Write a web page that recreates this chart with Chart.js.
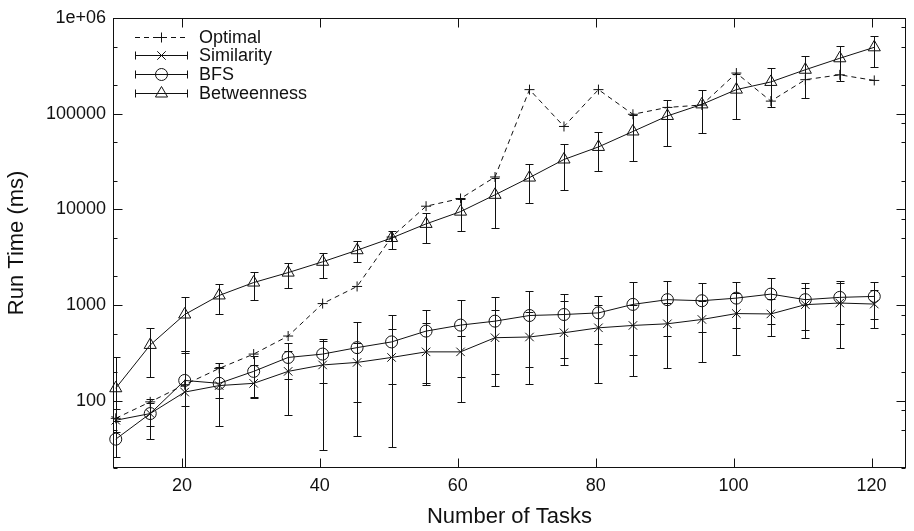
<!DOCTYPE html>
<html lang="en">
<head>
<meta charset="UTF-8">
<title>Run Time vs Number of Tasks</title>
<script src="https://cdn.jsdelivr.net/npm/chart.js@4"></script>
<style>
  html, body { margin: 0; padding: 0; background: #fff; }
  canvas { display: block; }
</style>
</head>
<body>
<canvas id="runtimeChart" width="914" height="531"></canvas>
<script>
// values (ms, log scale)
// the marks sit a little right of the nominal task count in the original
const tasks = [10.4, 15.4, 20.4, 25.4, 30.4, 35.4, 40.4, 45.4, 50.4, 55.4, 60.4, 65.4, 70.4, 75.4, 80.4, 85.4, 90.4, 95.4, 100.4, 105.4, 110.4, 115.4, 120.4];

const optimal = [66, 98, 148, 219, 309, 477, 1040, 1570, 5150, 10800, 13000, 21800, 178000, 73400, 178000, 98400, 116000, 123000, 265000, 135000, 226000, 254000, 222000];

const similarity     = [63, 74, 124, 145, 153, 204, 238, 253, 285, 326, 326, 458, 466, 516, 581, 615, 640, 710, 818, 811, 1014, 1054, 1028];
const similarityLow  = [47, 55, 10, 55, 107, 72, 31, 43, 33, 148, 98, 145, 149, 238, 155, 184, 219, 253, 301, 477, 458, 356, 573];
const similarityHigh = [83, 95, 321, 225, 240, 330, 427, 407, 560, 650, 477, 900, 850, 1100, 1014, 1000, 1054, 1100, 1337, 1159, 1530, 1698, 1449];

const bfs     = [40, 74, 164, 153, 204, 285, 309, 361, 414, 537, 620, 682, 781, 800, 832, 1020, 1143, 1114, 1186, 1306, 1143, 1208, 1236];
const bfsLow  = [26, 40, 88, 107, 110, 170, 153, 98, 149, 153, 177, 192, 228, 278, 392, 300, 477, 525, 581, 630, 547, 630, 710];
const bfsHigh = [62, 106, 330, 249, 296, 401, 441, 671, 787, 900, 1143, 1216, 1393, 1318, 1256, 1730, 1808, 1698, 1766, 1942, 1698, 1795, 1766];

const betweenness     = [136, 385, 800, 1265, 1725, 2190, 2840, 3750, 5030, 7060, 9480, 14200, 21500, 33200, 44900, 65100, 94500, 124800, 178000, 214000, 287000, 378000, 492000];
const betweennessLow  = [62, 177, 334, 818, 1143, 1530, 1942, 2840, 3845, 4500, 5890, 6430, 11560, 16000, 25200, 32400, 46300, 62600, 87300, 118000, 144000, 219000, 305000];
const betweennessHigh = [285, 573, 1208, 1656, 2240, 2730, 3546, 4650, 5890, 9180, 12800, 21500, 29900, 48500, 63600, 96800, 138000, 178000, 260000, 301000, 403000, 511000, 648000];

const xTicks = [20, 40, 60, 80, 100, 120];
const yTicks = [100, 1000, 10000, 100000, 1000000];
const yTickLabels = ['100', '1000', '10000', '100000', '1e+06'];

const FONT = '"Liberation Sans", Arial, Helvetica, sans-serif';
const INK = '#111';

function points(values) {
    return values.map((v, i) => ({ x: tasks[i], y: v }));
}

// vertical error bars with little caps, like gnuplot's yerrorlines
const errorBars = {
    id: 'errorBars',
    afterDatasetsDraw(chart) {
        const ctx = chart.ctx;
        const area = chart.chartArea;
        const yScale = chart.scales.y;
        ctx.save();
        ctx.beginPath();
        ctx.rect(area.left, area.top, area.right - area.left, area.bottom - area.top);
        ctx.clip();
        ctx.strokeStyle = INK;
        ctx.lineWidth = 1;
        chart.data.datasets.forEach((ds, di) => {
            if (!ds.errLow) return;
            chart.getDatasetMeta(di).data.forEach((pt, i) => {
                const x = Math.round(pt.x) + 0.5;
                const lo = Math.round(yScale.getPixelForValue(ds.errLow[i])) + 0.5;
                const hi = Math.round(yScale.getPixelForValue(ds.errHigh[i])) + 0.5;
                ctx.beginPath();
                ctx.moveTo(x, lo); ctx.lineTo(x, hi);
                ctx.moveTo(x - 4, lo); ctx.lineTo(x + 4, lo);
                ctx.moveTo(x - 4, hi); ctx.lineTo(x + 4, hi);
                ctx.stroke();
            });
        });
        ctx.restore();
    }
};

// box around the plot and inward tick marks on all four sides
const frame = {
    id: 'frame',
    afterDraw(chart) {
        const ctx = chart.ctx;
        const a = chart.chartArea;
        const xs = chart.scales.x, ys = chart.scales.y;
        const L = Math.round(a.left) + 0.5, R = Math.round(a.right) - 0.5;
        const T = Math.round(a.top) + 0.5, B = Math.round(a.bottom) - 0.5;
        ctx.save();
        ctx.strokeStyle = INK;
        ctx.lineWidth = 1;
        ctx.strokeRect(L, T, R - L, B - T);
        ctx.beginPath();
        xTicks.forEach(v => {
            const x = Math.round(xs.getPixelForValue(v)) + 0.5;
            ctx.moveTo(x, B); ctx.lineTo(x, B - 9);
            ctx.moveTo(x, T); ctx.lineTo(x, T + 9);
        });
        for (let d = 10; d <= 1e6; d *= 10) {
            [1, 2, 5, 8].forEach(m => {
                const v = d * m;
                if (v < ys.min || v > ys.max) return;
                const y = Math.round(ys.getPixelForValue(v)) + 0.5;
                const len = m === 1 ? 9 : 4;
                if (m !== 8) { ctx.moveTo(L, y); ctx.lineTo(L + len, y); }
                ctx.moveTo(R, y); ctx.lineTo(R - len, y);
            });
        }
        ctx.stroke();
        ctx.restore();
    }
};

// key in the upper left corner, with error bar samples
const keyBox = {
    id: 'keyBox',
    afterDraw(chart) {
        const ctx = chart.ctx;
        const a = chart.chartArea;
        const x0 = a.left + 22, x1 = a.left + 75, tx = a.left + 86;
        ctx.save();
        ctx.font = '18px ' + FONT;
        ctx.textBaseline = 'middle';
        ctx.textAlign = 'left';
        chart.data.datasets.forEach((ds, i) => {
            const y = Math.round(a.top + 19 + i * 18.6) + 0.5;
            ctx.strokeStyle = INK;
            ctx.lineWidth = 1;
            ctx.setLineDash(ds.borderDash || []);
            ctx.beginPath();
            ctx.moveTo(x0, y); ctx.lineTo(x1, y);
            ctx.stroke();
            ctx.setLineDash([]);
            if (ds.errLow) {
                ctx.beginPath();
                ctx.moveTo(x0 + 0.5, y - 4); ctx.lineTo(x0 + 0.5, y + 4);
                ctx.moveTo(x1 - 0.5, y - 4); ctx.lineTo(x1 - 0.5, y + 4);
                ctx.stroke();
            }
            ctx.fillStyle = 'rgba(0,0,0,0)';
            Chart.helpers.drawPoint(ctx, {
                pointStyle: ds.pointStyle, radius: ds.pointRadius, borderWidth: 1, rotation: 0
            }, (x0 + x1) / 2, y);
            ctx.fillStyle = INK;
            ctx.fillText(ds.label, tx, y + 1);
        });
        ctx.restore();
    }
};

const base = {
    borderColor: INK,
    borderWidth: 1,
    pointBorderColor: INK,
    pointBackgroundColor: 'rgba(0,0,0,0)',
    pointBorderWidth: 1,
    tension: 0,
    fill: false,
    clip: false
};

new Chart(document.getElementById('runtimeChart'), {
    type: 'line',
    data: {
        datasets: [
            Object.assign({}, base, { label: 'Optimal', data: points(optimal), borderDash: [5, 4], pointStyle: 'cross', pointRadius: 5 }),
            Object.assign({}, base, { label: 'Similarity', data: points(similarity), pointStyle: 'crossRot', pointRadius: 6,
                errLow: similarityLow, errHigh: similarityHigh }),
            Object.assign({}, base, { label: 'BFS', data: points(bfs), pointStyle: 'circle', pointRadius: 6,
                errLow: bfsLow, errHigh: bfsHigh }),
            Object.assign({}, base, { label: 'Betweenness', data: points(betweenness), pointStyle: 'triangle', pointRadius: 7,
                errLow: betweennessLow, errHigh: betweennessHigh })
        ]
    },
    options: {
        responsive: false,
        animation: false,
        layout: { padding: { top: 13, right: 1, bottom: 0, left: 0 } },
        plugins: { legend: { display: false }, tooltip: { enabled: false } },
        scales: {
            x: {
                type: 'linear', min: 10, max: 125,
                grid: { display: false, drawTicks: false },
                border: { display: false },
                afterBuildTicks: s => { s.ticks = xTicks.map(v => ({ value: v })); },
                afterFit: s => { s.height = 63; },
                ticks: { color: INK, font: { family: FONT, size: 18 }, padding: 7, maxRotation: 0, autoSkip: false },
                title: { display: true, text: 'Number of Tasks', color: INK, font: { family: FONT, size: 22 }, padding: { top: 0, bottom: 1 } }
            },
            y: {
                type: 'logarithmic', min: 20, max: 1000000,
                grid: { display: false, drawTicks: false },
                border: { display: false },
                afterBuildTicks: s => { s.ticks = yTicks.map(v => ({ value: v })); },
                afterFit: s => { s.width = 113; },
                ticks: {
                    color: INK, font: { family: FONT, size: 18 }, padding: 7, autoSkip: false,
                    callback: v => { const i = yTicks.indexOf(v); return i < 0 ? '' : yTickLabels[i]; }
                },
                title: { display: true, text: 'Run Time (ms)', color: INK, font: { family: FONT, size: 22 }, padding: { top: 4, bottom: 0 } }
            }
        }
    },
    plugins: [errorBars, frame, keyBox]
});
</script>
</body>
</html>
